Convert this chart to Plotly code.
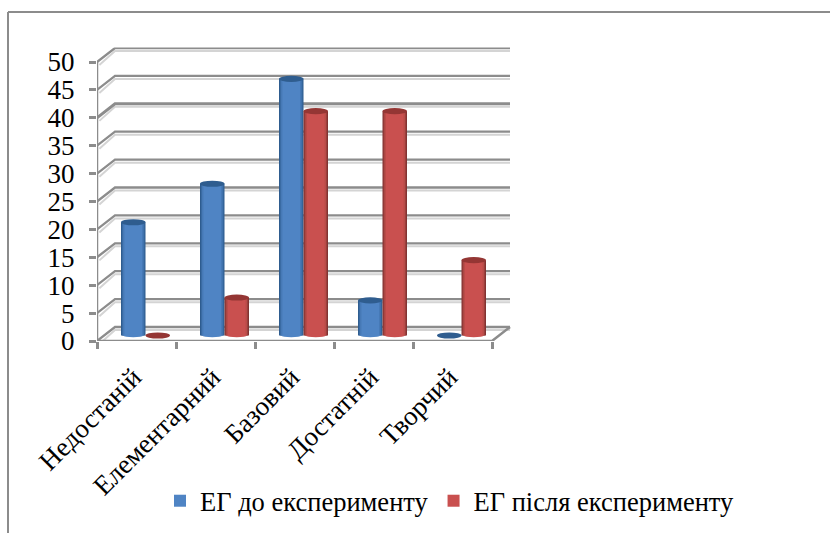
import plotly.graph_objects as go

categories = ["Недостаній", "Елементарний", "Базовий", "Достатній", "Творчий"]
series_before = [20.3, 27.2, 46, 6.3, 0]
series_after = [0, 6.8, 40.2, 40.2, 13.5]
name_before = "ЕГ до експерименту"
name_after = "ЕГ після експерименту"
y_ticks = [0, 5, 10, 15, 20, 25, 30, 35, 40, 45, 50]

W, H = 830, 533
PX_X, PX_Y = 79.0, 5.58       # pixels per category / per value unit
LEFT, BOTTOM = 97, 341        # pixel position of the front axis corner
DX, DY = 18 / PX_X, 14 / PX_Y # oblique depth of the box
BAR_DX, BAR_DY = 9 / PX_X, 5.5 / PX_Y
BAR_W = 24.5 / PX_X
XR = [0.5, 5.75]
YR = [0, 52.6]
GRAY, SHADOW = "#8c8c8c", "#d4d4d4"
SERIF = "Liberation Serif"

fig = go.Figure()
xs = list(range(1, len(categories) + 1))


def line(x, y, color=GRAY, width=2.5):
    fig.add_trace(go.Scatter(x=x, y=y, mode="lines", showlegend=False, hoverinfo="skip",
                             line=dict(color=color, width=width), cliponaxis=False,
                             xaxis="x", yaxis="y"))


# back wall + side wall grid
for t in y_ticks:
    line([0.5 + 0.03, 0.5 + DX, 5.5 + DX], [t - 0.55, t + DY - 0.55, t + DY - 0.55], SHADOW, 2)
for t in y_ticks:
    line([0.5, 0.5 + DX, 5.5 + DX], [t, t + DY, t + DY], GRAY, 3 if t == 40 else 2.3)
# floor and axes
line([0.5, 5.5], [-0.55, -0.55], SHADOW, 2)
line([0.5, 5.5, 5.5 + DX], [0, 0, DY], GRAY, 2.5)
line([0.5, 0.5], [0, 50], GRAY, 2.5)


def cylinder(values, offset, shades, edge, name):
    for i, (frac, col) in enumerate(shades):
        last = i == len(shades) - 1
        w = BAR_W * frac
        fig.add_trace(go.Bar(
            x=[x + BAR_DX for x in xs], y=values, base=BAR_DY, name=name if last else None,
            width=w, offset=offset + (BAR_W - w) / 2, marker=dict(color=col, line_width=0),
            showlegend=last, hoverinfo="skip", xaxis="x2", yaxis="y2"))
    for x, v in zip(xs, values):
        x0 = x + BAR_DX + offset
        rx = BAR_W
        fig.add_shape(type="circle", xref="x2", yref="y2", layer="above", line_width=0,
                      fillcolor=edge, x0=x0, x1=x0 + rx,
                      y0=v + BAR_DY - 0.55, y1=v + BAR_DY + 0.55)
        if v > 1:
            fig.add_shape(type="circle", xref="x2", yref="y2", layer="above", line_width=0,
                          fillcolor=shades[-1][1], x0=x0 + rx * 0.1, x1=x0 + rx * 0.9,
                          y0=BAR_DY - 0.3, y1=BAR_DY + 0.3)


blue = [(1.0, "#2f5d8f"), (0.92, "#3a6ba3"), (0.84, "#4679b6"), (0.72, "#4f84c4")]
red = [(1.0, "#823432"), (0.92, "#9c3f3c"), (0.84, "#b84c49"), (0.72, "#c9504f")]
cylinder(series_before, -BAR_W, blue, "#2f5d8f", name_before)
cylinder(series_after, 0, red, "#943634", name_after)

fig.add_shape(type="line", xref="paper", yref="paper", x0=8 / W, x1=8 / W, y0=0, y1=1 - 12 / H,
              line=dict(color="#8c8c8c", width=2))
fig.add_shape(type="line", xref="paper", yref="paper", x0=8 / W, x1=1, y0=1 - 12 / H, y1=1 - 12 / H,
              line=dict(color="#8c8c8c", width=2))

dom_x = [LEFT / W, (LEFT + (XR[1] - XR[0]) * PX_X) / W]
dom_y = [(H - BOTTOM) / H, (H - BOTTOM + (YR[1] - YR[0]) * PX_Y) / H]
fig.update_layout(
    width=W, height=H, margin=dict(l=0, r=0, t=0, b=0), paper_bgcolor="white", plot_bgcolor="white",
    barmode="overlay", font=dict(family=SERIF, color="black"),
    xaxis=dict(domain=dom_x, range=XR, tickmode="array", tickvals=xs, ticktext=categories,
               tickangle=-45, tickfont=dict(size=27, family=SERIF), ticks="", showgrid=False,
               zeroline=False, showline=False, ticklabelstandoff=14, ticklabelshift=-3, automargin=False,
               minor=dict(tickmode="array", tickvals=[0.5, 1.5, 2.5, 3.5, 4.5, 5.5], ticks="outside",
                          ticklen=7, tickwidth=2.5, tickcolor=GRAY, showgrid=False)),
    yaxis=dict(domain=dom_y, range=YR, tickmode="array", tickvals=y_ticks, ticks="outside",
               ticklen=7, tickwidth=2.5, tickcolor=GRAY, tickfont=dict(size=27, family=SERIF),
               showgrid=False, zeroline=False, showline=False, automargin=False, ticklabelstandoff=9),
    xaxis2=dict(domain=dom_x, range=XR, overlaying="x", anchor="y2", visible=False, automargin=False),
    yaxis2=dict(domain=dom_y, range=YR, overlaying="y", anchor="x2", visible=False, automargin=False),
    legend=dict(orientation="h", x=160 / W, xanchor="left", y=1 - 477 / H, yanchor="top",
                font=dict(size=26.5, family=SERIF), bgcolor="rgba(0,0,0,0)", itemwidth=30,
                traceorder="normal"),
)

fig.write_html("out.html", config=dict(displayModeBar=False),
               post_script="document.body.style.margin='0';")
